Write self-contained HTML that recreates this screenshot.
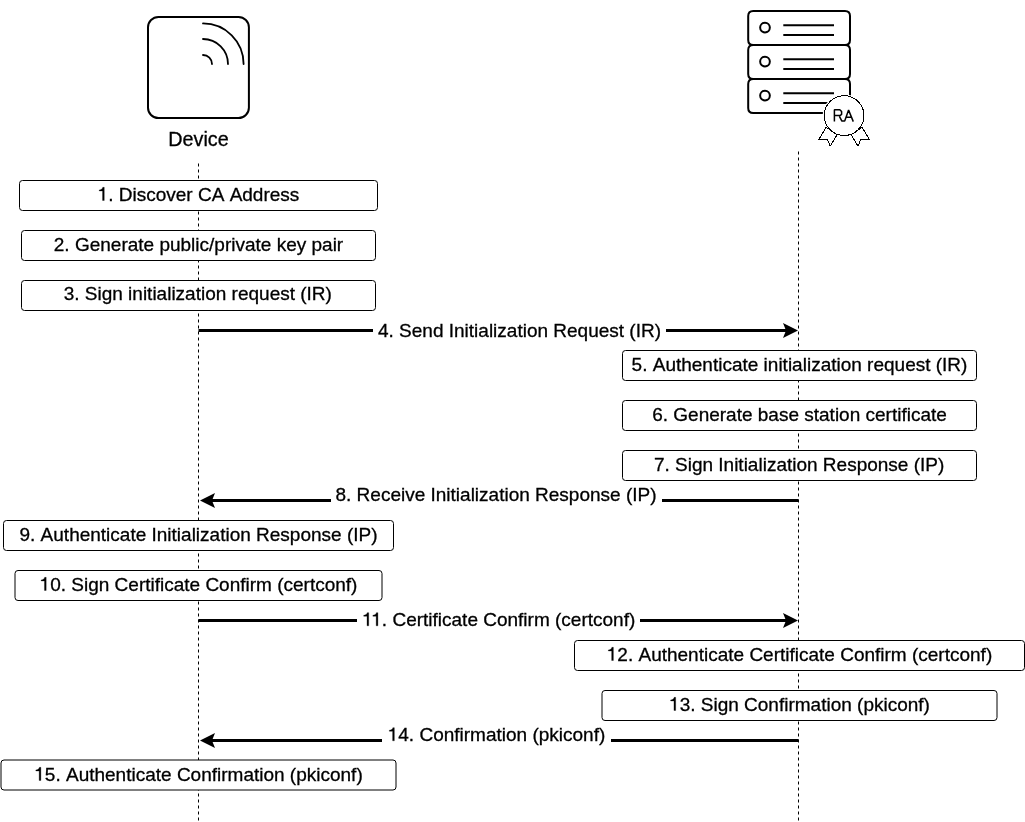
<!DOCTYPE html>
<html><head><meta charset="utf-8">
<style>
html,body{margin:0;padding:0;background:#fff;overflow:hidden;}
svg{display:block;will-change:transform;}
text .o{fill:none;stroke:none;}
text{font-kerning:none;font-family:"Liberation Sans",sans-serif;fill:#000;stroke:#000;stroke-width:0.3px;}
</style></head>
<body>
<svg width="1025" height="822" viewBox="0 0 1025 822">
<line x1="198.5" y1="163.5" x2="198.5" y2="822" stroke="#000" stroke-width="1" stroke-dasharray="3 3"/>
<line x1="798.5" y1="151.5" x2="798.5" y2="822" stroke="#000" stroke-width="1" stroke-dasharray="3 3"/>
<g fill="#fff" stroke="#000" stroke-width="1">
<path d="M19.5 183.5Q19.5 180.5 22.5 180.5L374.5 180.5Q377.5 180.5 377.5 183.5L377.5 207.5Q377.5 210.5 374.5 210.5L22.5 210.5Q19.5 210.5 19.5 207.5Z"/>
<path d="M21.5 233.5Q21.5 230.5 24.5 230.5L372.5 230.5Q375.5 230.5 375.5 233.5L375.5 257.5Q375.5 260.5 372.5 260.5L24.5 260.5Q21.5 260.5 21.5 257.5Z"/>
<path d="M21.5 283.5Q21.5 280.5 24.5 280.5L372.5 280.5Q375.5 280.5 375.5 283.5L375.5 307.5Q375.5 310.5 372.5 310.5L24.5 310.5Q21.5 310.5 21.5 307.5Z"/>
<path d="M622.5 353.5Q622.5 350.5 625.5 350.5L973.5 350.5Q976.5 350.5 976.5 353.5L976.5 377.5Q976.5 380.5 973.5 380.5L625.5 380.5Q622.5 380.5 622.5 377.5Z"/>
<path d="M622.5 403.5Q622.5 400.5 625.5 400.5L973.5 400.5Q976.5 400.5 976.5 403.5L976.5 427.5Q976.5 430.5 973.5 430.5L625.5 430.5Q622.5 430.5 622.5 427.5Z"/>
<path d="M622.5 453.5Q622.5 450.5 625.5 450.5L973.5 450.5Q976.5 450.5 976.5 453.5L976.5 477.5Q976.5 480.5 973.5 480.5L625.5 480.5Q622.5 480.5 622.5 477.5Z"/>
<path d="M3.5 523.5Q3.5 520.5 6.5 520.5L390.5 520.5Q393.5 520.5 393.5 523.5L393.5 547.5Q393.5 550.5 390.5 550.5L6.5 550.5Q3.5 550.5 3.5 547.5Z"/>
<path d="M15 573.5Q15 570.5 18 570.5L379 570.5Q382 570.5 382 573.5L382 597.5Q382 600.5 379 600.5L18 600.5Q15 600.5 15 597.5Z"/>
<path d="M574.5 643.5Q574.5 640.5 577.5 640.5L1021.5 640.5Q1024.5 640.5 1024.5 643.5L1024.5 667.5Q1024.5 670.5 1021.5 670.5L577.5 670.5Q574.5 670.5 574.5 667.5Z"/>
<path d="M602 693.5Q602 690.5 605 690.5L994 690.5Q997 690.5 997 693.5L997 717.5Q997 720.5 994 720.5L605 720.5Q602 720.5 602 717.5Z"/>
<path d="M1 763Q1 760 4 760L393 760Q396 760 396 763L396 787Q396 790 393 790L4 790Q1 790 1 787Z"/>
</g>
<g font-size="19" text-anchor="middle">
<text x="198.50" y="200.5"><tspan class="o">1</tspan>. Discover CA Address</text>
<text x="198.50" y="250.5">2. Generate public/private key pair</text>
<text x="197.80" y="300.3">3. Sign initialization request (IR)</text>
<text x="799.50" y="370.5">5. Authenticate initialization request (IR)</text>
<text x="799.50" y="420.5">6. Generate base station certificate</text>
<text x="799.10" y="470.5">7. Sign Initialization Response (IP)</text>
<text x="198.50" y="540.5">9. Authenticate Initialization Response (IP)</text>
<text x="198.50" y="590.5"><tspan class="o">1</tspan>0. Sign Certificate Confirm (certconf)</text>
<text x="799.50" y="660.5"><tspan class="o">1</tspan>2. Authenticate Certificate Confirm (certconf)</text>
<text x="799.50" y="710.5"><tspan class="o">1</tspan>3. Sign Confirmation (pkiconf)</text>
<text x="198.50" y="780.5"><tspan class="o">1</tspan>5. Authenticate Confirmation (pkiconf)</text>
</g>
<g stroke="#000" stroke-width="3">
<line x1="198.5" y1="330.5" x2="786" y2="330.5"/>
<line x1="212" y1="500.5" x2="798.5" y2="500.5"/>
<line x1="198.5" y1="620.5" x2="786" y2="620.5"/>
<line x1="212" y1="740.5" x2="798.5" y2="740.5"/>
</g><g fill="#000">
<path d="M798 330.5L783 323.0L786 330.5L783 338.0Z"/>
<path d="M200 500.5L215 493.0L212 500.5L215 508.0Z"/>
<path d="M798 620.5L783 613.0L786 620.5L783 628.0Z"/>
<path d="M200 740.5L215 733.0L212 740.5L215 748.0Z"/>
</g><g fill="#fff">
<rect x="373" y="319.5" width="293" height="22"/>
<rect x="331" y="489.5" width="331" height="22"/>
<rect x="357" y="609.5" width="283" height="22"/>
<rect x="382" y="729.5" width="229" height="22"/>
</g><g font-size="19" text-anchor="middle">
<text x="519.5" y="336.5">4. Send Initialization Request (IR)</text>
<text x="496" y="501">8. Receive Initialization Response (IP)</text>
<text x="498.7" y="625.8"><tspan class="o">1</tspan><tspan class="o" dx="-1.41">1</tspan>. Certificate Confirm (certconf)</text>
<text x="496.5" y="740.8"><tspan class="o">1</tspan>4. Confirmation (pkiconf)</text>
</g>
<path d="M148 27.3A10.4 10.4 0 0 1 158.4 16.9L238.5 16.9A10.4 10.4 0 0 1 248.9 27.3L248.9 107.7A10.4 10.4 0 0 1 238.5 118.1L158.4 118.1A10.4 10.4 0 0 1 148 107.7Z" fill="#fff" stroke="#000" stroke-width="2"/>
<g fill="none" stroke="#000" stroke-width="1.8" stroke-linecap="round">
<path d="M203 55 A9 9 0 0 1 212 64"/>
<path d="M203 39 A25 25 0 0 1 228 64"/>
<path d="M203 23.4 A40.6 40.6 0 0 1 243.6 64"/>
</g>
<text x="198.5" y="145.8" font-size="19.8" text-anchor="middle">Device</text>
<g fill="#fff" stroke="#000" stroke-width="2">
<path d="M748.2 16Q748.2 11 753.2 11L845 11Q850 11 850 16L850 40Q850 45 845 45L753.2 45Q748.2 45 748.2 40Z"/>
<path d="M748.2 50Q748.2 45 753.2 45L845 45Q850 45 850 50L850 74Q850 79 845 79L753.2 79Q748.2 79 748.2 74Z"/>
<path d="M748.2 84Q748.2 79 753.2 79L845 79Q850 79 850 84L850 108Q850 113 845 113L753.2 113Q748.2 113 748.2 108Z"/>
</g><g fill="none" stroke="#000" stroke-width="2">
<circle cx="765" cy="27.6" r="4.85"/>
<circle cx="765" cy="61.6" r="4.85"/>
<circle cx="765" cy="95.6" r="4.85"/>
<path d="M783.3 25.2H834M783.3 35.1H834M783.3 59.2H834M783.3 69.1H834M783.3 93.2H834M783.3 103.1H834"/>
</g>
<circle cx="844.1" cy="115.6" r="21.4" fill="#fff"/>
<g fill="#fff" stroke="#000" stroke-width="1" shape-rendering="crispEdges">
<path d="M826.2 127.3 L818.6 139.7 L827.5 139.2 L830.1 146.2 L837.2 134.6 Z"/>
<path d="M862 127.3 L869.6 139.7 L860.7 139.2 L858.1 146.2 L851 134.6 Z"/>
<circle cx="844.1" cy="115.6" r="19.9"/>
</g>
<path d="M834.4 121.6V109.65H839.8L841.6 111.6V114.4L840 115.6H834.4M839.4 116.4L841.9 121.1H844.7L848.6 110.1L853.3 121.6M846.2 117.3H851.4" fill="none" stroke="#000" stroke-width="1.5" stroke-linejoin="bevel"/>
<g fill="#000" stroke="#000" stroke-width="0.3">
<path transform="translate(97.65 200.50)" d="M6.6 0V-13.15H5.1C4.88 -12.1 4.56 -11.7 3.8 -11.2C3.1 -10.8 2.4 -10.6 1.6 -10.55V-9.55H4.9V0Z"/>
<path transform="translate(39.58 590.50)" d="M6.6 0V-13.15H5.1C4.88 -12.1 4.56 -11.7 3.8 -11.2C3.1 -10.8 2.4 -10.6 1.6 -10.55V-9.55H4.9V0Z"/>
<path transform="translate(606.77 660.50)" d="M6.6 0V-13.15H5.1C4.88 -12.1 4.56 -11.7 3.8 -11.2C3.1 -10.8 2.4 -10.6 1.6 -10.55V-9.55H4.9V0Z"/>
<path transform="translate(669.07 710.50)" d="M6.6 0V-13.15H5.1C4.88 -12.1 4.56 -11.7 3.8 -11.2C3.1 -10.8 2.4 -10.6 1.6 -10.55V-9.55H4.9V0Z"/>
<path transform="translate(34.27 780.50)" d="M6.6 0V-13.15H5.1C4.88 -12.1 4.56 -11.7 3.8 -11.2C3.1 -10.8 2.4 -10.6 1.6 -10.55V-9.55H4.9V0Z"/>
<path transform="translate(362.12 625.80)" d="M6.6 0V-13.15H5.1C4.88 -12.1 4.56 -11.7 3.8 -11.2C3.1 -10.8 2.4 -10.6 1.6 -10.55V-9.55H4.9V0Z"/>
<path transform="translate(371.29 625.80)" d="M6.6 0V-13.15H5.1C4.88 -12.1 4.56 -11.7 3.8 -11.2C3.1 -10.8 2.4 -10.6 1.6 -10.55V-9.55H4.9V0Z"/>
<path transform="translate(387.73 740.80)" d="M6.6 0V-13.15H5.1C4.88 -12.1 4.56 -11.7 3.8 -11.2C3.1 -10.8 2.4 -10.6 1.6 -10.55V-9.55H4.9V0Z"/>
</g>
</svg>
</body></html>
